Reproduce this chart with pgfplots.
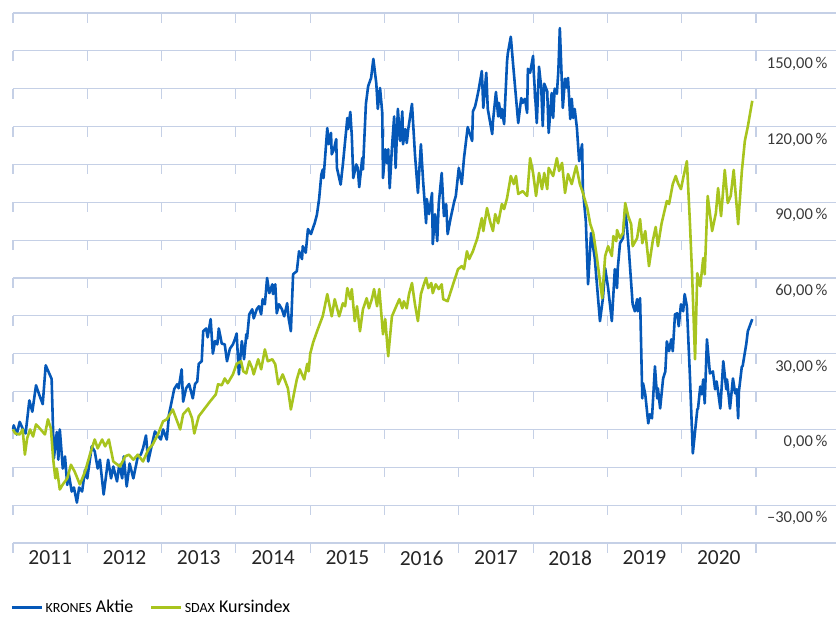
\documentclass[border=0pt]{standalone}
\usepackage{fontspec}
\setmainfont{Carlito}
\usepackage{pgfplots}
\pgfplotsset{compat=1.18}
\definecolor{kronesBlue}{HTML}{0558B8}
\definecolor{sdaxGreen}{HTML}{A8C41E}
\definecolor{gridBlue}{HTML}{C5D0E6}
\definecolor{labelGray}{HTML}{3A3A3A}

\begin{document}
\begin{tikzpicture}
\begin{axis}[
  at={(13pt,75pt)}, anchor=south west,
  scale only axis, width=823pt, height=530pt,
  xmin=2011, xmax=2022.077, ymin=-45, ymax=165,
  axis line style={draw=none},
  major tick length=0pt,
  xtick={2011.5,2012.5,2013.5,2014.5,2015.5,2016.5,2017.5,2018.5,2019.5,2020.5},
  xticklabels={2011,2012,2013,2014,2015,2016,2017,2018,2019,2020},
  ytick={-45,-30,-15,0,15,30,45,60,75,90,105,120,135,150,165},
  yticklabels={{},{–30,00\,\%},{},{0,00\,\%},{},{30,00\,\%},{},{60,00\,\%},{},{90,00\,\%},{},{120,00\,\%},{},{150,00\,\%},{}},
  ymajorgrids, grid style={gridBlue, line width=1.1pt},
  yticklabel pos=right,
  yticklabel style={anchor=east, xshift=-5pt, yshift=-13pt, font=\fontsize{16.5}{16.5}\selectfont, text=labelGray},
  xticklabel style={font=\fontsize{21.5}{21.5}\selectfont, text=black!85, yshift=-4pt},
  clip=false,
  legend columns=2,
  legend style={at={(axis description cs:-0.0036,-0.1215)}, anchor=west, draw=none, fill=none, inner sep=0pt,
    font=\fontsize{18}{18}\selectfont, /tikz/every even column/.append style={column sep=14pt}},
  legend image code/.code={\draw[#1, line width=3.4pt] (0pt,0pt) -- (30pt,0pt);},
]
\pgfplotsextra{
  \foreach \yy in {-45,-30,...,165}{
    \foreach \xx in {2011,...,2021}{
      \draw[gridBlue, line width=1.1pt] (axis cs:\xx,\yy) -- ++(0pt,-10pt);
    }
  }
}
\addplot[kronesBlue, line width=2.6pt, line join=round] coordinates {
(2011.00,0) (2011.01,1.6) (2011.05,-2) (2011.09,3) (2011.15,-1) (2011.17,-1.6) (2011.22,11.5) (2011.26,7) (2011.31,17.5) (2011.35,14) (2011.40,10) (2011.44,25.4) (2011.52,20) (2011.55,-11.5) (2011.59,-1) (2011.61,-12) (2011.63,0) (2011.66,-11.5) (2011.67,-15.5) (2011.70,-10.7) (2011.73,-22) (2011.75,-17.5) (2011.79,-24.6) (2011.82,-23) (2011.86,-29) (2011.89,-23) (2011.93,-24.6) (2011.97,-16) (2012.00,-19.4) (2012.06,-6.7) (2012.10,-8.7) (2012.14,-15.5) (2012.17,-12) (2012.22,-25.8) (2012.28,-12) (2012.32,-19.4) (2012.35,-14.7) (2012.40,-20.6) (2012.43,-14) (2012.47,-19.4) (2012.49,-10.7) (2012.53,-22.6) (2012.57,-13.5) (2012.62,-19.4) (2012.68,-10.7) (2012.72,-10) (2012.75,-7.5) (2012.79,-2.4) (2012.82,-12.7) (2012.87,-6) (2012.91,-0.8) (2012.95,-2.4) (2012.99,-4) (2013.02,0) (2013.07,-4) (2013.10,6) (2013.17,16) (2013.21,17.9) (2013.23,16.3) (2013.27,23.8) (2013.29,11) (2013.33,16.3) (2013.37,18) (2013.42,12.3) (2013.45,18) (2013.48,19) (2013.50,26) (2013.54,27) (2013.56,38.9) (2013.60,40) (2013.62,36.5) (2013.66,43.7) (2013.69,30) (2013.72,35) (2013.75,33.7) (2013.77,40) (2013.81,34) (2013.85,33.7) (2013.88,27) (2013.92,32) (2013.96,33.7) (2013.99,36) (2014.01,38) (2014.04,21.8) (2014.08,35) (2014.11,27.8) (2014.14,37.7) (2014.15,36) (2014.18,45.6) (2014.22,47.6) (2014.24,44) (2014.28,47.6) (2014.31,48.8) (2014.34,45.6) (2014.36,51.6) (2014.39,49.6) (2014.42,60) (2014.45,54) (2014.49,57.5) (2014.50,53.6) (2014.53,57.5) (2014.55,46) (2014.58,49.6) (2014.62,47.6) (2014.65,44.8) (2014.69,50) (2014.71,44) (2014.74,38.9) (2014.77,61.5) (2014.82,62.7) (2014.85,70.6) (2014.89,67.5) (2014.90,72.6) (2014.94,70) (2014.97,79.4) (2015.01,77.4) (2015.04,80) (2015.06,81.7) (2015.09,85) (2015.12,91.3) (2015.15,101) (2015.17,103) (2015.18,99.6) (2015.23,119.4) (2015.25,113) (2015.28,117.5) (2015.29,109) (2015.32,111) (2015.35,115) (2015.36,103.6) (2015.41,97) (2015.44,105) (2015.50,123.4) (2015.51,119) (2015.54,125.8) (2015.56,116.3) (2015.58,99.6) (2015.62,105) (2015.64,103.6) (2015.66,96) (2015.70,107.5) (2015.71,103) (2015.75,129) (2015.78,136) (2015.82,139.3) (2015.85,146.8) (2015.89,137) (2015.91,127) (2015.94,135.3) (2015.97,125.4) (2015.98,99.6) (2016.01,111) (2016.03,105.6) (2016.05,111) (2016.07,95.6) (2016.10,111.5) (2016.13,124) (2016.15,103.6) (2016.18,127) (2016.21,114.3) (2016.24,126) (2016.25,113) (2016.28,119) (2016.30,113.5) (2016.32,119) (2016.37,129) (2016.41,109) (2016.45,93.7) (2016.49,113) (2016.52,98.4) (2016.56,81.7) (2016.57,91.3) (2016.60,85.3) (2016.64,93.7) (2016.65,73.4) (2016.68,85.3) (2016.71,74.6) (2016.73,89.3) (2016.77,101.6) (2016.80,84.5) (2016.83,89.3) (2016.85,77.4) (2016.89,83.7) (2016.94,90.5) (2016.96,92.5) (2017.00,103.6) (2017.04,97.2) (2017.07,107.5) (2017.12,119.8) (2017.18,114.3) (2017.19,126) (2017.22,128) (2017.25,132) (2017.27,135) (2017.31,142) (2017.33,127.4) (2017.37,141.3) (2017.39,127) (2017.45,117) (2017.46,122) (2017.50,133.7) (2017.53,124) (2017.54,129.4) (2017.57,123.4) (2017.58,127) (2017.61,121) (2017.65,146) (2017.66,149) (2017.70,155.6) (2017.73,145) (2017.80,121.4) (2017.84,131.3) (2017.86,129.4) (2017.89,131) (2017.92,125.4) (2017.93,142.9) (2017.96,141.3) (2018.00,148) (2018.01,140.9) (2018.05,121.4) (2018.08,143.7) (2018.11,135.3) (2018.13,120.2) (2018.15,137) (2018.19,134) (2018.21,117.5) (2018.25,133.3) (2018.27,123.4) (2018.29,135) (2018.32,133) (2018.34,142) (2018.36,159) (2018.40,127.4) (2018.43,139) (2018.46,135.3) (2018.47,139.3) (2018.50,123) (2018.52,131) (2018.54,123.4) (2018.56,127) (2018.59,119.4) (2018.62,106.3) (2018.66,113) (2018.67,95.2) (2018.71,82.5) (2018.74,57.5) (2018.78,77.8) (2018.83,67.9) (2018.90,42.9) (2018.94,52) (2018.97,63.9) (2019.01,56) (2019.06,42.9) (2019.10,63.5) (2019.13,56) (2019.14,63.9) (2019.17,73.8) (2019.21,75.8) (2019.24,87.3) (2019.26,81.3) (2019.29,70.6) (2019.34,49.6) (2019.37,46.8) (2019.40,51.6) (2019.41,46.8) (2019.44,52) (2019.47,12.3) (2019.48,18.3) (2019.51,13.9) (2019.55,2.4) (2019.57,6) (2019.60,4.4) (2019.64,25) (2019.67,12.3) (2019.68,16.3) (2019.71,8.3) (2019.75,20.2) (2019.78,23) (2019.80,34.9) (2019.83,31) (2019.86,35.7) (2019.88,31) (2019.91,45.6) (2019.94,46) (2019.96,40.9) (2019.99,49.6) (2020.02,46.8) (2020.04,53.6) (2020.07,48.8) (2020.11,21.8) (2020.15,-9.5) (2020.21,7.9) (2020.22,8.3) (2020.25,17) (2020.27,13.9) (2020.29,19.8) (2020.31,10.3) (2020.34,35.7) (2020.38,22.2) (2020.42,23) (2020.45,15.9) (2020.47,19) (2020.49,15) (2020.52,8.3) (2020.56,27) (2020.60,15.9) (2020.61,19.8) (2020.65,8.3) (2020.69,20.2) (2020.72,14.3) (2020.74,15.9) (2020.76,4.4) (2020.77,15) (2020.81,25) (2020.82,25) (2020.87,34) (2020.89,38.9) (2020.95,43.7)
};
\addlegendentry{{\fontsize{14}{14}\selectfont KRONES} Aktie}
\addplot[sdaxGreen, line width=2.6pt, line join=round] coordinates {
(2011.00,0) (2011.03,-1.6) (2011.09,-2) (2011.13,0) (2011.16,-10) (2011.19,-3.6) (2011.23,0) (2011.27,-2.8) (2011.31,2) (2011.36,0.4) (2011.43,-2) (2011.47,4) (2011.51,0.4) (2011.54,-11.5) (2011.57,-19.4) (2011.59,-15.5) (2011.63,-23.8) (2011.67,-21.8) (2011.73,-19.4) (2011.78,-14) (2011.83,-16.7) (2011.90,-21.8) (2011.97,-16.7) (2012.04,-9.5) (2012.10,-4) (2012.14,-7.5) (2012.20,-4) (2012.24,-6.7) (2012.29,-4) (2012.35,-12.7) (2012.44,-14.7) (2012.51,-10.7) (2012.56,-10) (2012.62,-12) (2012.68,-10) (2012.75,-12.7) (2012.82,-8) (2012.88,-6) (2012.95,-2) (2013.02,3.2) (2013.07,4) (2013.15,7.9) (2013.21,3.2) (2013.25,0) (2013.29,6) (2013.36,8.3) (2013.41,4.4) (2013.44,-1.6) (2013.50,5.2) (2013.58,8.3) (2013.65,11) (2013.73,13.9) (2013.76,17.9) (2013.81,17.5) (2013.85,20.2) (2013.89,18.3) (2013.96,21.8) (2014.01,26) (2014.07,27) (2014.10,23) (2014.14,22.2) (2014.18,27) (2014.22,24.2) (2014.24,21.8) (2014.30,27.8) (2014.34,23.8) (2014.39,31.7) (2014.43,27) (2014.49,27.8) (2014.53,25.8) (2014.57,17.9) (2014.63,21.8) (2014.70,16.3) (2014.74,7.9) (2014.78,13.9) (2014.82,19.8) (2014.86,23.8) (2014.92,19.8) (2014.96,26) (2014.98,23) (2015.00,30) (2015.04,34.5) (2015.10,39.5) (2015.17,45) (2015.23,53.6) (2015.29,44.8) (2015.33,51.6) (2015.39,44.8) (2015.44,50) (2015.47,48.8) (2015.50,56) (2015.54,51.6) (2015.56,55.6) (2015.60,42.9) (2015.63,48.8) (2015.67,38.9) (2015.71,47.6) (2015.76,52) (2015.79,48) (2015.83,51.6) (2015.86,55.6) (2015.90,48.8) (2015.93,55.6) (2015.98,37.7) (2016.01,43.7) (2016.05,29) (2016.10,44.8) (2016.17,49.6) (2016.20,51.6) (2016.24,48) (2016.26,50.8) (2016.30,48) (2016.33,53.6) (2016.37,58) (2016.41,49.6) (2016.45,42.9) (2016.49,53.6) (2016.53,57.5) (2016.56,60) (2016.59,56) (2016.63,58) (2016.65,54) (2016.69,57.5) (2016.73,55.6) (2016.77,57.5) (2016.79,51.6) (2016.85,50.8) (2016.91,56.3) (2016.99,63.5) (2017.04,64.7) (2017.07,63.5) (2017.11,70.6) (2017.14,67.5) (2017.19,70.6) (2017.25,75.8) (2017.31,83.7) (2017.33,78.6) (2017.38,87.7) (2017.42,82.5) (2017.46,78.6) (2017.49,85.3) (2017.53,81.7) (2017.58,89.3) (2017.61,87.3) (2017.65,91.7) (2017.70,100.4) (2017.74,97.2) (2017.77,100.4) (2017.80,93.3) (2017.86,94.4) (2017.92,92.5) (2017.96,107.5) (2018.00,101.6) (2018.04,92.5) (2018.08,101.6) (2018.12,95.2) (2018.15,101.6) (2018.19,95.2) (2018.21,103.6) (2018.27,100.4) (2018.32,107.5) (2018.35,102.4) (2018.39,105.6) (2018.43,93.7) (2018.47,101.2) (2018.52,97.2) (2018.58,104.4) (2018.63,97.2) (2018.67,93.7) (2018.73,87.7) (2018.77,81.3) (2018.81,77.8) (2018.86,67.9) (2018.93,52) (2018.97,68.7) (2019.01,72.6) (2019.06,68.7) (2019.08,76.6) (2019.12,74.6) (2019.13,79) (2019.17,75.8) (2019.21,77.8) (2019.24,89.7) (2019.28,84.5) (2019.32,81.3) (2019.34,72.6) (2019.40,75.8) (2019.44,83.3) (2019.47,73.8) (2019.51,78.6) (2019.56,64.7) (2019.61,74.6) (2019.65,80.2) (2019.68,72.6) (2019.73,81.7) (2019.80,90.5) (2019.83,89.3) (2019.88,97.2) (2019.92,100.4) (2019.95,97.6) (2019.99,95.2) (2020.02,99.6) (2020.07,106.3) (2020.11,82.5) (2020.14,61.5) (2020.18,27.8) (2020.21,61.9) (2020.25,56.7) (2020.29,67.9) (2020.31,61.5) (2020.35,92.5) (2020.41,78.6) (2020.46,85.7) (2020.49,95.6) (2020.53,84.5) (2020.58,102.8) (2020.62,89.7) (2020.66,92.5) (2020.70,102.8) (2020.76,81.3) (2020.81,102.4) (2020.85,114.3) (2020.89,120) (2020.95,130.2)
};
\addlegendentry{{\fontsize{14}{14}\selectfont SDAX} Kursindex}
\end{axis}
\pgfresetboundingbox
\path[use as bounding box] (0,0) rectangle (836pt,618pt);
\end{tikzpicture}
\end{document}
